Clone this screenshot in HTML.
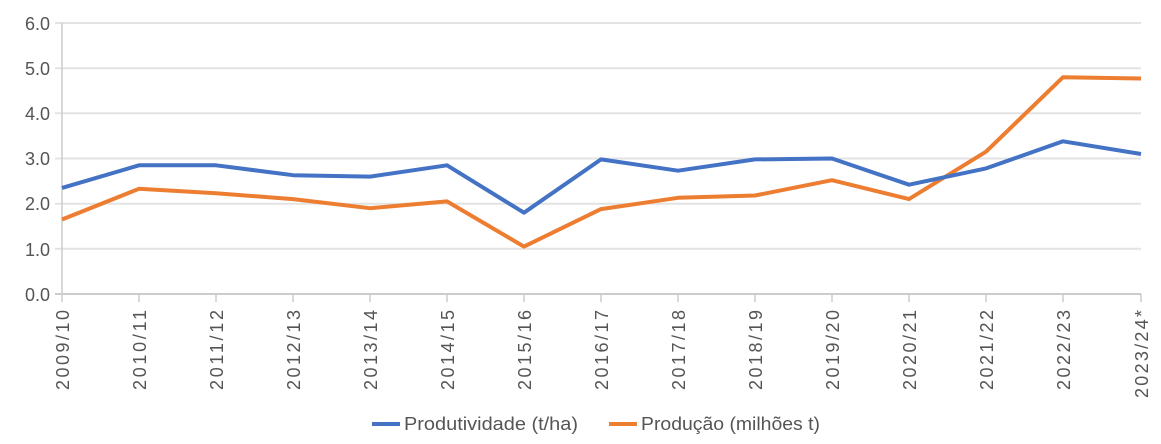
<!DOCTYPE html>
<html><head><style>body{margin:0;background:#fff}svg{display:block}text{font-family:"Liberation Sans",sans-serif;fill:#555;font-size:18px}</style></head><body>
<svg width="1161" height="444" viewBox="0 0 1161 444">
<g stroke="#e3e3e3" stroke-width="2">
<line x1="55" y1="23" x2="1141" y2="23"/><line x1="55" y1="68.2" x2="1141" y2="68.2"/><line x1="55" y1="113.3" x2="1141" y2="113.3"/><line x1="55" y1="158.5" x2="1141" y2="158.5"/><line x1="55" y1="203.7" x2="1141" y2="203.7"/><line x1="55" y1="248.8" x2="1141" y2="248.8"/>
</g>
<line x1="55" y1="294" x2="1141" y2="294" stroke="#ccc" stroke-width="2"/>
<line x1="62" y1="23" x2="62" y2="302" stroke="#ccc" stroke-width="1.5"/>
<g stroke="#ccc" stroke-width="1.5">
<line x1="139" y1="294" x2="139" y2="302"/><line x1="216" y1="294" x2="216" y2="302"/><line x1="293" y1="294" x2="293" y2="302"/><line x1="370" y1="294" x2="370" y2="302"/><line x1="447" y1="294" x2="447" y2="302"/><line x1="524" y1="294" x2="524" y2="302"/><line x1="601" y1="294" x2="601" y2="302"/><line x1="678" y1="294" x2="678" y2="302"/><line x1="755" y1="294" x2="755" y2="302"/><line x1="832" y1="294" x2="832" y2="302"/><line x1="909" y1="294" x2="909" y2="302"/><line x1="986" y1="294" x2="986" y2="302"/><line x1="1063" y1="294" x2="1063" y2="302"/><line x1="1141" y1="294" x2="1141" y2="302"/>
</g>
<g text-anchor="end">
<text x="50" y="30">6.0</text><text x="50" y="75">5.0</text><text x="50" y="120">4.0</text><text x="50" y="165">3.0</text><text x="50" y="210">2.0</text><text x="50" y="256">1.0</text><text x="50" y="301">0.0</text>
</g>
<g text-anchor="end" lengthAdjust="spacingAndGlyphs">
<text transform="translate(69,310) rotate(-90)" textLength="80">2009/10</text>
<text transform="translate(146,310) rotate(-90)" textLength="80">2010/11</text>
<text transform="translate(223,310) rotate(-90)" textLength="80">2011/12</text>
<text transform="translate(300,310) rotate(-90)" textLength="80">2012/13</text>
<text transform="translate(377,310) rotate(-90)" textLength="80">2013/14</text>
<text transform="translate(454,310) rotate(-90)" textLength="80">2014/15</text>
<text transform="translate(531,310) rotate(-90)" textLength="80">2015/16</text>
<text transform="translate(608,310) rotate(-90)" textLength="80">2016/17</text>
<text transform="translate(685,310) rotate(-90)" textLength="80">2017/18</text>
<text transform="translate(762,310) rotate(-90)" textLength="80">2018/19</text>
<text transform="translate(839,310) rotate(-90)" textLength="80">2019/20</text>
<text transform="translate(916,310) rotate(-90)" textLength="80">2020/21</text>
<text transform="translate(993,310) rotate(-90)" textLength="80">2021/22</text>
<text transform="translate(1070,310) rotate(-90)" textLength="80">2022/23</text>
<text transform="translate(1148,310) rotate(-90)" textLength="88">2023/24*</text>
</g>
<polyline fill="none" stroke="#ed7d31" stroke-width="4" stroke-linejoin="round" points="62,219.5 139,188.8 216,193.3 293,199.1 370,208.2 447,201.4 524,246.6 601,209.1 678,197.8 755,195.5 832,180.2 909,199.1 986,151.7 1063,77.2 1141,78.5"/>
<polyline fill="none" stroke="#4472c4" stroke-width="4" stroke-linejoin="round" points="62,187.9 139,165.3 216,165.3 293,175.2 370,176.6 447,165.3 524,212.7 601,159.4 678,170.7 755,159.4 832,158.5 909,184.7 986,168.4 1063,141.3 1141,154"/>
<line x1="372" y1="424" x2="400" y2="424" stroke="#4472c4" stroke-width="4"/>
<text x="404" y="430" textLength="174" lengthAdjust="spacingAndGlyphs">Produtividade (t/ha)</text>
<line x1="609" y1="424" x2="637" y2="424" stroke="#ed7d31" stroke-width="4"/>
<text x="641" y="430" textLength="179" lengthAdjust="spacingAndGlyphs">Produção (milhões t)</text>
</svg>
</body></html>
